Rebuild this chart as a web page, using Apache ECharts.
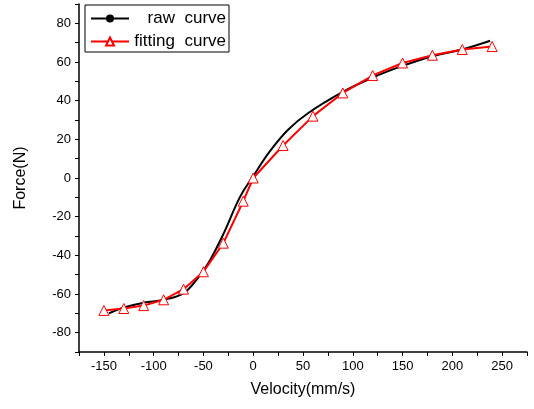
<!DOCTYPE html>
<html>
<head>
<meta charset="utf-8">
<script src="https://cdn.jsdelivr.net/npm/echarts@6/dist/echarts.min.js"></script>
<style>
 html, body { margin: 0; padding: 0; background: #fff; }
 #chart { width: 534px; height: 409px; }
</style>
</head>
<body>
<div id="chart"></div>
<script>
// raw measured curve
var rawX = [-145, -130, -110, -90, -70, -56, -45, -30, -13, 0, 17, 35, 55, 90, 120, 150, 180, 210, 238];
var rawY = [-70, -67, -64.5, -63, -59.5, -52, -44, -29, -9.5, 1, 14, 25, 33.5, 44.5, 52, 58, 63, 66.5, 71];
// fitting curve points
var fitX = [-150, -130, -110, -90, -70, -50, -30, -10, 0, 30, 60, 90, 120, 150, 180, 210, 240];
var fitY = [-68.5, -67.5, -66, -63, -57.5, -48.5, -33.7, -12, 0, 16.8, 32, 44, 53, 59.5, 63.5, 66.5, 68];
var xTicks = [-150, -100, -50, 0, 50, 100, 150, 200, 250];
var yTicks = [-80, -60, -40, -20, 0, 20, 40, 60, 80];

function pairs(xs, ys) {
 var out = [];
 for (var i = 0; i < xs.length; i++) out.push([xs[i], ys[i]]);
 return out;
}

var myChart = echarts.init(document.getElementById('chart'));
var font = 'Liberation Sans';
var option = {
 animation: false,
 textStyle: { fontFamily: font },
 grid: { left: 79, right: 7, top: 4, bottom: 57 },
 legend: {
  left: 85, top: 5,
  orient: 'vertical',
  borderColor: '#000', borderWidth: 1, borderRadius: 0,
  padding: [5, 3, 2, 5],
  itemWidth: 38, itemHeight: 10, itemGap: 6,
  formatter: function (name) { return '{a|' + name.replace(' ', '  ') + '}'; },
  textStyle: {
   fontFamily: font, fontSize: 17, color: '#000',
   rich: { a: { width: 92, align: 'right', fontFamily: font, fontSize: 17, color: '#000' } }
  }
 },
 xAxis: {
  type: 'value', min: -175, max: 275, interval: 25,
  name: 'Velocity(mm/s)', nameLocation: 'middle', nameGap: 30,
  nameTextStyle: { fontFamily: font, fontSize: 16, color: '#000' },
  axisLine: { onZero: false, lineStyle: { color: '#000', width: 1.5 } },
  axisTick: { inside: false, length: 4, lineStyle: { color: '#000' } },
  splitLine: { show: false },
  axisLabel: {
   fontFamily: font, fontSize: 13, color: '#000', margin: 8,
   formatter: function (v) { return xTicks.indexOf(v) >= 0 ? String(v) : ''; }
  }
 },
 yAxis: {
  type: 'value', min: -90, max: 90, interval: 10,
  name: 'Force(N)', nameLocation: 'middle', nameGap: 50,
  nameTextStyle: { fontFamily: font, fontSize: 16, color: '#000' },
  axisLine: { show: true, onZero: false, lineStyle: { color: '#000', width: 1.5 } },
  axisTick: { show: true, inside: false, length: 4, lineStyle: { color: '#000' } },
  splitLine: { show: false },
  axisLabel: {
   fontFamily: font, fontSize: 13, color: '#000', margin: 8,
   formatter: function (v) { return yTicks.indexOf(v) >= 0 ? String(v) : ''; }
  }
 },
 series: [
  {
   name: 'raw curve', type: 'line', smooth: 0.4,
   data: pairs(rawX, rawY),
   symbol: 'circle', symbolSize: 3, showSymbol: false,
   lineStyle: { color: '#000', width: 2 },
   itemStyle: { color: '#000' }
  },
  {
   name: 'fitting curve', type: 'line',
   data: pairs(fitX, fitY),
   symbol: 'triangle', symbolSize: 10,
   lineStyle: { color: '#ff0000', width: 2 },
   itemStyle: { color: '#fff', borderColor: '#ff0000', borderWidth: 1 }
  }
 ]
};
myChart.setOption(option);
</script>
</body>
</html>
